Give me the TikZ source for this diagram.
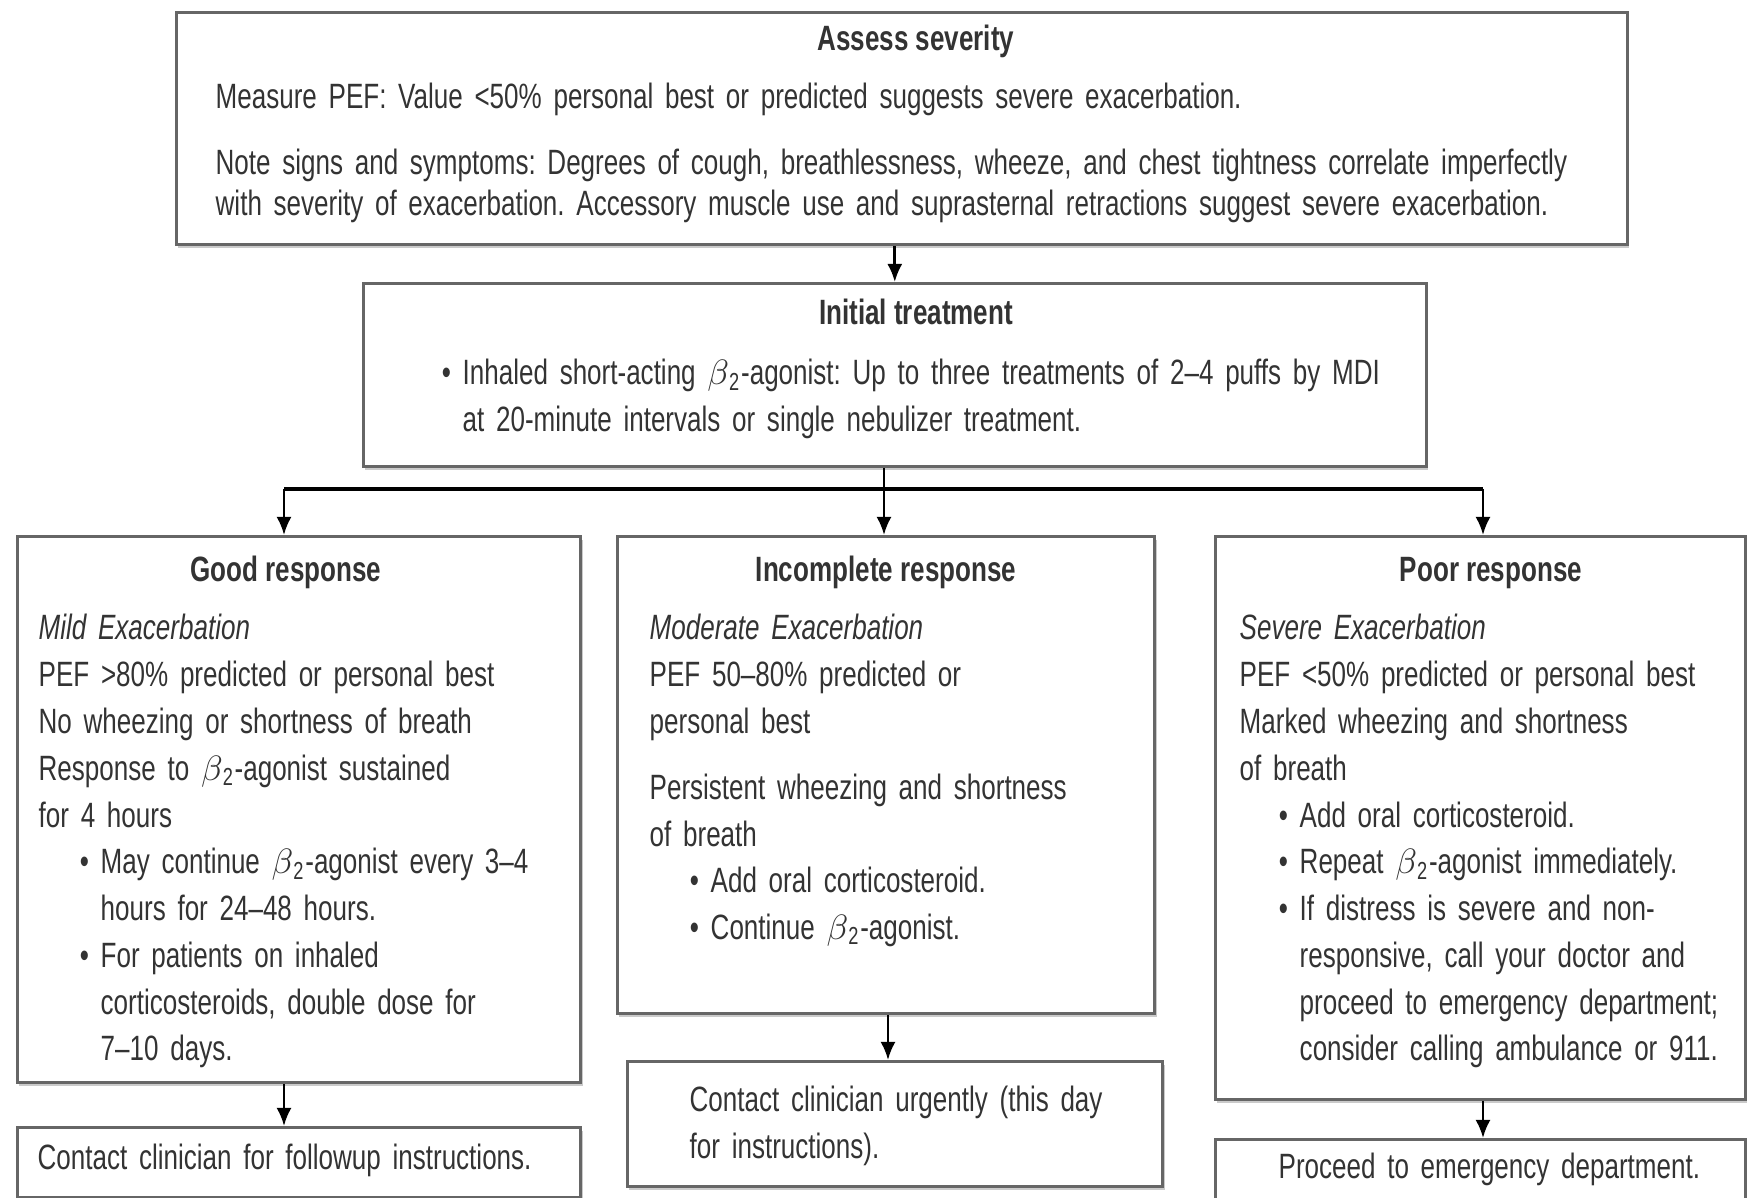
\documentclass[tikz,border=0pt]{standalone}
\usepackage{fontspec}
\setmainfont{Liberation Sans}[FakeStretch=0.74]
\usetikzlibrary{arrows.meta,shadows}
\definecolor{inkc}{HTML}{333333}
\definecolor{edgec}{HTML}{666666}
\newcommand{\btwo}{$\beta$\textsubscript{2}}
\newcommand{\bul}{\llap{\textbullet\ }}
\frenchspacing

\begin{document}
\begin{tikzpicture}[x=0.01cm, y=-0.01cm, font=\fontsize{10}{13.3}\selectfont]
  \tikzset{
    boxshape/.style={draw=edgec, line width=0.85pt, fill=white, anchor=north west, inner sep=0pt,
      drop shadow={shadow xshift=0.5pt, shadow yshift=-1pt, fill=black!35, opacity=0.6}},
    headtxt/.style={anchor=base, inner sep=0pt, text=inkc, font=\fontsize{10}{12}\selectfont\bfseries},
    bodytxt/.style={anchor=base west, inner sep=0pt, align=left, text width=#1, text=inkc},
    bodytxt/.default=5cm,
    arrowlink/.style={-{Latex[length=1.8mm,width=1.5mm]}, line width=0.75pt},
    forkline/.style={line width=1.3pt}
  }
  \useasboundingbox (0,0) rectangle (1747,1198);

  % boxes
  \node[boxshape, minimum width=14.5cm, minimum height=2.32cm] (assess) at (175,11) {};
  \node[boxshape, minimum width=10.62cm, minimum height=1.83cm] (treat) at (362,282) {};
  \node[boxshape, minimum width=5.63cm, minimum height=5.46cm] (good) at (16,535) {};
  \node[boxshape, minimum width=5.37cm, minimum height=4.77cm] (inc) at (616,535) {};
  \node[boxshape, minimum width=5.30cm, minimum height=5.63cm] (poor) at (1214,535) {};
  \node[boxshape, minimum width=5.63cm, minimum height=0.70cm] (goodnext) at (16,1126) {};
  \node[boxshape, minimum width=5.35cm, minimum height=1.25cm] (incnext) at (626,1060) {};
  \node[boxshape, minimum width=5.30cm, minimum height=0.80cm] (poornext) at (1214,1138) {};

  % assess severity
  \node[headtxt] (assesshd) at (916,51) {Assess severity};
  \node[bodytxt=14.2cm, font=\fontsize{10}{11.7}\selectfont] (assesstxt) at (215,109)
    {Measure PEF: Value <50\% personal best or predicted suggests severe exacerbation.\\[0.24cm]
     Note signs and symptoms: Degrees of cough, breathlessness, wheeze, and chest tightness correlate imperfectly\\
     with severity of exacerbation. Accessory muscle use and suprasternal retractions suggest severe exacerbation.};

  % initial treatment
  \node[headtxt] (treathd) at (916,325) {Initial treatment};
  \node[bodytxt=9.6cm] (treattxt) at (462,385)
    {\bul Inhaled short-acting \btwo-agonist: Up to three treatments of 2--4 puffs by MDI\\
     at 20-minute intervals or single nebulizer treatment.};

  % good response
  \node[headtxt] (goodhd) at (286,582) {Good response};
  \node[bodytxt=5.3cm] (goodtxt) at (38,640)
    {\textit{Mild Exacerbation}\\
     PEF >80\% predicted or personal best\\
     No wheezing or shortness of breath\\
     Response to \btwo-agonist sustained\\
     for 4 hours\\
     \hspace*{0.62cm}\bul May continue \btwo-agonist every 3--4\\
     \hspace*{0.62cm}hours for 24--48 hours.\\
     \hspace*{0.62cm}\bul For patients on inhaled\\
     \hspace*{0.62cm}corticosteroids, double dose for\\
     \hspace*{0.62cm}7--10 days.};

  % incomplete response
  \node[headtxt] (inchd) at (886,582) {Incomplete response};
  \node[bodytxt=5cm] (inctxt) at (649,640)
    {\textit{Moderate Exacerbation}\\
     PEF 50--80\% predicted or\\
     personal best\\[0.19cm]
     Persistent wheezing and shortness\\
     of breath\\
     \hspace*{0.61cm}\bul Add oral corticosteroid.\\
     \hspace*{0.61cm}\bul Continue \btwo-agonist.};

  % poor response
  \node[headtxt] (poorhd) at (1491,582) {Poor response};
  \node[bodytxt=5.1cm] (poortxt) at (1239,640)
    {\textit{Severe Exacerbation}\\
     PEF <50\% predicted or personal best\\
     Marked wheezing and shortness\\
     of breath\\
     \hspace*{0.6cm}\bul Add oral corticosteroid.\\
     \hspace*{0.6cm}\bul Repeat \btwo-agonist immediately.\\
     \hspace*{0.6cm}\bul If distress is severe and non-\\
     \hspace*{0.6cm}responsive, call your doctor and\\
     \hspace*{0.6cm}proceed to emergency department;\\
     \hspace*{0.6cm}consider calling ambulance or 911.};

  % next steps
  \node[bodytxt=5.3cm] (goodnexttxt) at (37,1170) {Contact clinician for followup instructions.};
  \node[bodytxt=5cm] (incnexttxt) at (689,1112) {Contact clinician urgently (this day\\ for instructions).};
  \node[bodytxt=5cm] (poornexttxt) at (1278,1179) {Proceed to emergency department.};

  % connectors
  \coordinate (fork) at (884,489);
  \coordinate (gx) at (284,489);
  \coordinate (px) at (1483,489);
  \coordinate (ix) at (888,0);
  \draw[arrowlink] (treat.north |- assess.south) -- (treat.north);
  \draw[forkline] (gx) -- (px);
  \draw[arrowlink] (treat.south -| fork) -- (inc.north -| fork);
  \draw[arrowlink] (gx) -- (good.north -| gx);
  \draw[arrowlink] (px) -- (poor.north -| px);
  \draw[arrowlink] (good.south -| gx) -- (goodnext.north -| gx);
  \draw[arrowlink] (inc.south -| ix) -- (incnext.north -| ix);
  \draw[arrowlink] (poor.south -| px) -- (poornext.north -| px);
\end{tikzpicture}
\end{document}
